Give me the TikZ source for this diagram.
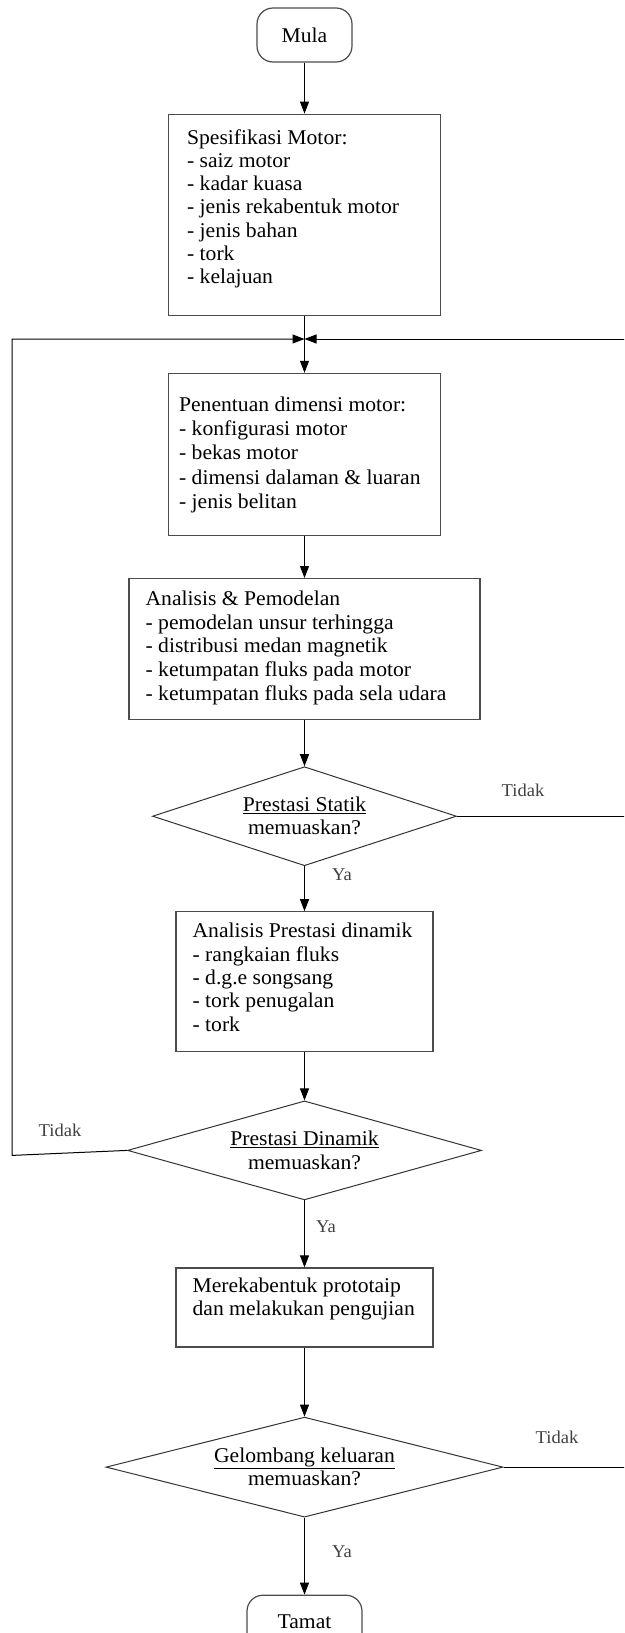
\documentclass[tikz,border=0pt]{standalone}
\usepackage{fontspec}
\setmainfont{Liberation Serif}[FakeStretch=1.03]
\usepackage{xcolor}
\usepackage{tikz}
\usetikzlibrary{positioning,shapes.geometric,arrows.meta}

\begin{document}
\begin{tikzpicture}[
        x=1pt, y=-1pt,
        font=\fontsize{21}{23.3}\selectfont,
        terminal/.style={rectangle, draw=black!70, line width=1.2pt, rounded corners=16pt, minimum width=95pt, minimum height=54pt, inner sep=0pt},
        box/.style={rectangle, draw=black!70, line width=1.2pt, inner sep=0pt},
        isi/.style={align=left, inner sep=0pt, text=black},
        decision/.style={diamond, draw=black!80, line width=1pt, aspect=4, inner sep=0pt, align=center},
        jawab/.style={font=\fontsize{18}{20}\selectfont, text=black!75, inner sep=0pt},
        arrow/.style={-{Triangle[width=9pt,length=12pt]}, line width=1pt},
        garis/.style={line width=1pt}
    ]
        \useasboundingbox (0,0) rectangle (624,1633);
        \clip (0,0) rectangle (624,1633);

        % Mula
        \node[terminal] (mula) at (304.5,35) {Mula};

        % Spesifikasi motor
        \node[box, minimum width=272pt, minimum height=201pt, below=51pt of mula] (spek) {};
        \node[isi, below right=15.5pt and 19pt of spek.north west] (spek-isi) {Spesifikasi Motor:\\ - saiz motor\\ - kadar kuasa\\ - jenis rekabentuk motor\\ - jenis bahan\\ - tork\\ - kelajuan};

        % Penentuan dimensi
        \node[box, minimum width=272pt, minimum height=162pt, below=57pt of spek] (dimensi) {};
        \node[isi, font=\fontsize{21}{24.2}\selectfont, below right=24pt and 11pt of dimensi.north west] (dimensi-isi) {Penentuan dimensi motor:\\ - konfigurasi motor\\ - bekas motor\\ - dimensi dalaman \& luaran\\ - jenis belitan};

        % Analisis & pemodelan
        \node[box, minimum width=351pt, minimum height=141pt, below=42pt of dimensi] (analisis) {};
        \node[isi, font=\fontsize{21}{23.6}\selectfont, below right=13pt and 17pt of analisis.north west] (analisis-isi) {Analisis \& Pemodelan\\ - pemodelan unsur terhingga\\ - distribusi medan magnetik\\ - ketumpatan fluks pada motor\\ - ketumpatan fluks pada sela udara};

        % Prestasi statik
        \node[decision, minimum width=304pt, minimum height=99pt, below=46pt of analisis] (statik) {\underline{Prestasi Statik}\\ memuaskan?};

        % Prestasi dinamik
        \node[box, minimum width=257pt, minimum height=140pt, below=45pt of statik] (dinamik) {};
        \node[isi, below right=12pt and 17pt of dinamik.north west] (dinamik-isi) {Analisis Prestasi dinamik\\ - rangkaian fluks\\ - d.g.e songsang\\ - tork penugalan\\ - tork};

        \node[decision, minimum width=354pt, minimum height=99pt, below=48pt of dinamik] (dinamikq) {\underline{Prestasi Dinamik}\\ memuaskan?};

        % Prototaip
        \node[box, minimum width=257pt, minimum height=79pt, below=67pt of dinamikq] (prototaip) {};
        \node[isi, below right=10.5pt and 17pt of prototaip.north west] (prototaip-isi) {Merekabentuk prototaip\\ dan melakukan pengujian};

        % Gelombang keluaran
        \node[decision, minimum width=397pt, minimum height=100pt, below=69pt of prototaip] (gelombang) {\underline{Gelombang keluaran}\\ memuaskan?};

        % Tamat
        \node[terminal, minimum width=115pt, below=77pt of gelombang] (tamat) {Tamat};

        % Titik sambungan
        \coordinate (sambung) at (304.5,339);
        \coordinate (kiri) at (12,339);
        \coordinate (kanan) at (640,339);

        % Anak panah
        \draw[arrow] (mula) -- (spek);
        \draw[garis] (spek) -- (sambung);
        \draw[arrow] (sambung) -- (dimensi);
        \draw[arrow] (dimensi) -- (analisis);
        \draw[arrow] (analisis) -- (statik);
        \draw[arrow] (statik) -- (dinamik);
        \draw[arrow] (dinamik) -- (dinamikq);
        \draw[arrow] (dinamikq) -- (prototaip);
        \draw[arrow] (prototaip) -- (gelombang);
        \draw[arrow] (gelombang) -- (tamat);

        % Gelung maklum balas
        \draw[arrow] (statik.east) -| (kanan) -- (sambung);
        \draw[garis] (gelombang.east) -| (kanan);
        \draw[arrow] (dinamikq.west) -- ([yshift=-5pt]kiri |- dinamikq.west) -- (kiri) -- (sambung);

        % Label Ya / Tidak
        \node[jawab] (tidak-statik) at (523,790) {Tidak};
        \node[jawab] (ya-statik) at (342,875) {Ya};
        \node[jawab] (tidak-dinamik) at (60,1130) {Tidak};
        \node[jawab] (ya-dinamik) at (326,1227) {Ya};
        \node[jawab] (tidak-gelombang) at (557,1437) {Tidak};
        \node[jawab] (ya-gelombang) at (342,1552) {Ya};
    \end{tikzpicture}
\end{document}
